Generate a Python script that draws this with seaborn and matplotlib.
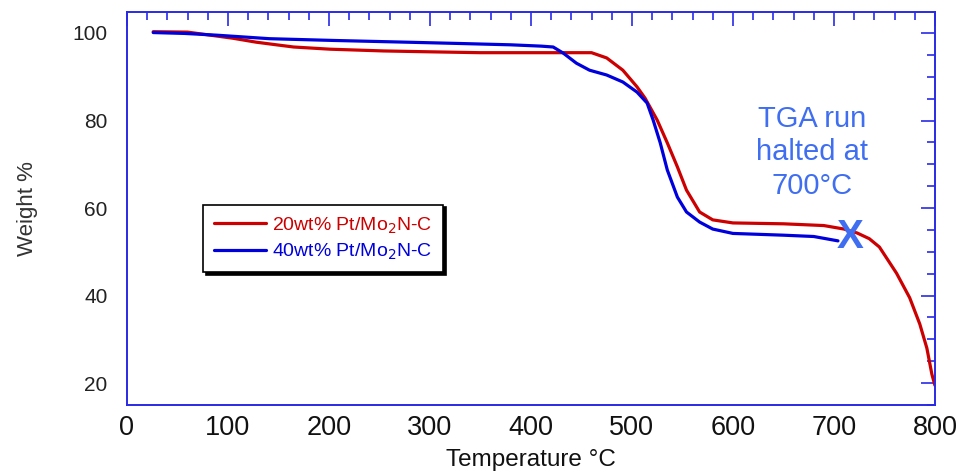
import matplotlib
matplotlib.use("Agg")
import matplotlib.pyplot as plt
import seaborn as sns
import pandas as pd
from matplotlib.ticker import MultipleLocator
from matplotlib.lines import Line2D

# ---- data ----
red_label = "20wt% Pt/Mo$_2$N-C"
blue_label = "40wt% Pt/Mo$_2$N-C"

red_temp = [26, 60, 89, 105, 128, 148, 165, 201, 254, 300, 350, 400, 440, 460,
            475, 491, 505, 513, 525, 535, 545, 554, 567, 580, 600, 650, 690,
            710, 723, 735, 745, 762, 775, 785, 792, 797, 800]
red_weight = [100.3, 100.2, 99.3, 98.8, 97.9, 97.3, 96.8, 96.3, 95.9, 95.7, 95.5,
              95.5, 95.5, 95.5, 94.3, 91.5, 87.7, 85.1, 80.1, 74.9, 69.4, 64.1,
              59.1, 57.3, 56.6, 56.4, 56.0, 55.2, 54.3, 53.0, 51.1, 45.1, 39.5,
              33.5, 28.0, 22.0, 19.5]

blue_temp = [26, 57, 89, 115, 141, 204, 277, 330, 380, 410, 422, 432, 445, 458,
             475, 491, 505, 515, 521, 528, 535, 545, 554, 567, 580, 600, 650,
             680, 704]
blue_weight = [100.1, 99.9, 99.5, 99.1, 98.7, 98.3, 97.9, 97.6, 97.3, 97.0, 96.8,
               95.4, 93.1, 91.5, 90.4, 88.8, 86.5, 84.0, 80.1, 74.9, 68.7, 62.5,
               59.1, 56.8, 55.2, 54.2, 53.8, 53.5, 52.5]

x_ticks = [0, 100, 200, 300, 400, 500, 600, 700, 800]
y_ticks = [20, 40, 60, 80, 100]

annotation = "TGA run\nhalted at\n700°C"
halt_temp, halt_weight = 716, 53.4

# ---- build table ----
df = pd.concat([
    pd.DataFrame({"Temperature": red_temp, "Weight": red_weight, "Sample": red_label}),
    pd.DataFrame({"Temperature": blue_temp, "Weight": blue_weight, "Sample": blue_label}),
])

sns.set_style("white")
plt.rcParams["font.family"] = ["Liberation Sans", "DejaVu Sans"]

red_c = "#cc0000"
blue_c = "#0000dd"
spine_c = "#2a2ae6"
annot_c = "#3f6ef0"

fig = plt.figure(figsize=(9.59, 4.74), dpi=100)
ax = fig.add_axes([0.1324, 0.1456, 0.8425, 0.8291])

sns.lineplot(data=df, x="Temperature", y="Weight", hue="Sample",
             palette={red_label: red_c, blue_label: blue_c},
             estimator=None, sort=False, linewidth=2.3, ax=ax, legend=False)

ax.set_xlim(0, 800)
ax.set_ylim(15, 104.8)
ax.set_xticks(x_ticks)
ax.set_yticks(y_ticks)
ax.xaxis.set_minor_locator(MultipleLocator(20))
ax.yaxis.set_minor_locator(MultipleLocator(5))

for s in ax.spines.values():
    s.set_color(spine_c)
    s.set_linewidth(1.4)

ax.tick_params(which="both", direction="in", top=True, right=True,
               color=spine_c, width=1.2)
ax.tick_params(which="major", length=10)
ax.tick_params(which="minor", length=6)
ax.tick_params(axis="x", labelsize=19.5, pad=7, labelcolor="#111111")
ax.tick_params(axis="y", labelsize=15, pad=14, labelcolor="#222222")

ax.set_xlabel("Temperature °C", fontsize=17.5, color="#111111", labelpad=6)
ax.set_ylabel("Weight %", fontsize=16, color="#333333", labelpad=25)

# legend
handles = [Line2D([], [], color=red_c, lw=2.3), Line2D([], [], color=blue_c, lw=2.3)]
leg = ax.legend(handles, [red_label, blue_label], loc="upper left",
                bbox_to_anchor=(0.094, 0.51), fontsize=14, frameon=True,
                fancybox=False, shadow={"color": "black", "alpha": 1.0},
                handlelength=2.7, handletextpad=0.3, borderpad=0.55,
                labelspacing=0.3, borderaxespad=0)
leg.get_frame().set_edgecolor("black")
leg.get_frame().set_linewidth(1.2)
for t, c in zip(leg.get_texts(), [red_c, blue_c]):
    t.set_color(c)

ax.text(678, 72.8, annotation, color=annot_c, fontsize=21, ha="center",
        va="center", linespacing=1.25)
ax.text(halt_temp, halt_weight, "X", color=annot_c, fontsize=29,
        fontweight="bold", ha="center", va="center")

fig.savefig("out.png", dpi=100)
